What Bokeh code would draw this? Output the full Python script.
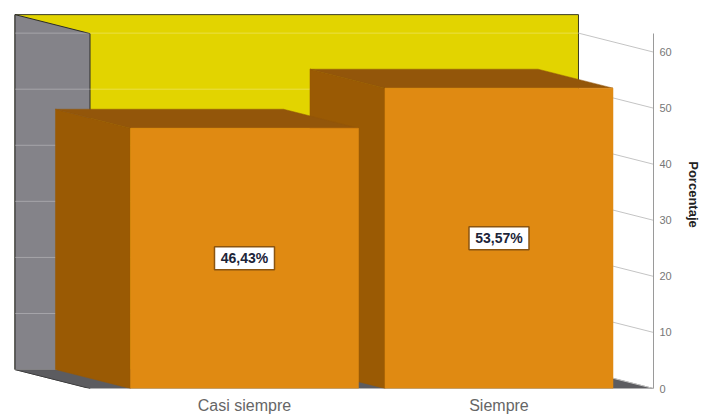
from bokeh.plotting import figure
from bokeh.models import Range1d, FixedTicker, ColumnDataSource
from bokeh.core.properties import value
from bokeh.embed import file_html
from bokeh.resources import INLINE

# ---- data ----
categories = ["Casi siempre", "Siempre"]
percentages = [46.43, 53.57]
positions = [0, 1]
y_ticks = [0, 10, 20, 30, 40, 50, 60]

# ---- 3D layout constants (styles/geometry, not data) ----
BAR_HALF = 0.448          # half width of a bar front face (x units)
DX = -0.2947              # depth shift in x units (towards the left)
DY = 3.38                 # depth shift in value units (upwards)
WALL_L, WALL_R = -0.607, 1.607
WALL_TOP = 63.3

FONT = "Liberation Sans"
C_BACK = "#e2d400"
C_LEFT = "#848389"
C_FLOOR = "#5c5c60"
C_FRONT = "#e08a12"
C_SIDE = "#9a5a04"
C_TOP = "#93560a"

p = figure(width=703, height=416, output_backend="svg", toolbar_location=None,
           x_range=Range1d(-0.9587, 1.6071), y_range=Range1d(0, 69.2),
           y_axis_location="right", min_border_left=0, min_border_top=0,
           min_border_right=50, min_border_bottom=27)
p.outline_line_color = None
p.xgrid.visible = False
p.ygrid.visible = False
p.background_fill_color = "white"
p.border_fill_color = "white"

# ---- walls & floor ----
L, R, T = WALL_L, WALL_R, WALL_TOP
p.patch([L + DX, R + DX, R + DX, L + DX], [DY, DY, T + DY, T + DY],
        fill_color=C_BACK, line_color="#3a3a20", line_width=1)
p.patch([L + DX, L, L, L + DX], [DY, 0, T, T + DY],
        fill_color=C_LEFT, line_color="#2a2a2a", line_width=1)
p.patch([L, R, R + DX, L + DX], [0, 0, DY, DY],
        fill_color=C_FLOOR, line_color="#3a3a3a", line_width=0.5)

# gridlines on back/left wall and connectors to the front axis
for v in y_ticks:
    p.line([L + DX, R + DX], [v + DY, v + DY], line_color="white", line_alpha=0.28, line_width=1)
    p.line([R + DX, R], [v + DY, v], line_color="#c4c4c4", line_width=1)

# ---- bars (right one first so the left one covers it) ----
for c, v in sorted(zip(positions, percentages), key=lambda t: -t[0]):
    x0, x1 = c - BAR_HALF, c + BAR_HALF
    p.patch([x0, x0, x0 + DX, x0 + DX], [0, v, v + DY, DY],
            fill_color=C_SIDE, line_color=C_SIDE, line_width=0.5)
    p.patch([x0, x1, x1 + DX, x0 + DX], [v, v, v + DY, v + DY],
            fill_color=C_TOP, line_color=C_TOP, line_width=0.5)
    p.patch([x0, x1, x1, x0], [0, 0, v, v],
            fill_color=C_FRONT, line_color=C_FRONT, line_width=0.5)

# ---- value labels ----
src = ColumnDataSource(dict(
    x=positions,
    y=[v / 2 for v in percentages],
    t=[f"{v:.2f}".replace(".", ",") + "%" for v in percentages],
))
p.rect(x="x", y="y", width=60, height=23, width_units="screen", height_units="screen",
       source=src, fill_color="white", line_color="#8a5410", line_width=1.5)
p.text(x="x", y="y", text="t", source=src, text_align="center", text_baseline="middle",
       text_font=value(FONT), text_font_size="14px", text_font_style="bold",
       text_color="#1c2438")

# ---- right value axis ----
ya = p.yaxis[0]
ya.ticker = FixedTicker(ticks=y_ticks)
ya.bounds = (0, WALL_TOP)
ya.axis_line_color = "#9a9a9a"
ya.major_tick_out = 0
ya.major_tick_in = 0
ya.minor_tick_line_color = None
ya.major_label_standoff = 6
ya.major_label_text_font = FONT
ya.major_label_text_font_size = "11px"
ya.major_label_text_color = "#777777"
ya.axis_label = "Porcentaje"
ya.axis_label_text_font = FONT
ya.axis_label_text_font_size = "13px"
ya.axis_label_text_font_style = "bold"
ya.axis_label_text_color = "#222222"
ya.axis_label_standoff = 11

# ---- category axis ----
xa = p.xaxis[0]
xa.ticker = FixedTicker(ticks=positions)
xa.major_label_overrides = {pos: name for pos, name in zip(positions, categories)}
xa.axis_line_color = None
xa.major_tick_out = 0
xa.major_tick_in = 0
xa.minor_tick_line_color = None
xa.major_label_standoff = 8
xa.major_label_text_font = FONT
xa.major_label_text_font_size = "16px"
xa.major_label_text_color = "#666666"

open("out.html", "w").write(file_html(p, INLINE))
